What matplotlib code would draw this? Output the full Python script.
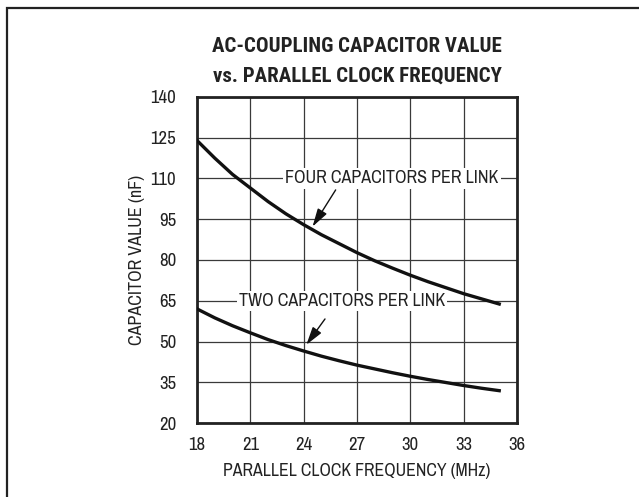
import matplotlib
matplotlib.use("Agg")
import matplotlib.pyplot as plt
from matplotlib.patches import Rectangle
from matplotlib import font_manager


def pick(prefs, weight):
    faces = font_manager.fontManager.ttflist
    for p in prefs:
        for f in faces:
            if f.name == p and (f.weight == weight or (weight == 700 and f.weight in (700, 'bold'))) \
                    and 'italic' not in f.fname.lower():
                return p
    return 'DejaVu Sans'


REG = pick(['Archivo Narrow', 'Roboto Condensed', 'Pragati Narrow', 'Asap Condensed'], 400)
BOLD = pick(['Roboto Condensed', 'Pragati Narrow', 'Asap Condensed', 'Barlow Condensed'], 700)
plt.rcParams['font.family'] = [REG, 'DejaVu Sans']

# Data
freq = [18, 19, 20, 21, 22, 23, 24, 25, 26, 27, 28, 29, 30, 31, 32, 33, 34, 35]
four_caps = [124, 117.5, 111.5, 106.5, 101.5, 97, 93, 89.3, 86, 82.7, 79.7, 77,
             74.4, 72, 69.8, 67.6, 65.7, 63.8]
two_caps = [62, 58.7, 55.8, 53.2, 50.7, 48.5, 46.5, 44.6, 42.9, 41.3, 39.9, 38.5,
            37.2, 36, 34.9, 33.8, 32.8, 31.9]
x_ticks = [18, 21, 24, 27, 30, 33, 36]
y_ticks = [20, 35, 50, 65, 80, 95, 110, 125, 140]

title = "AC-COUPLING CAPACITOR VALUE\nvs. PARALLEL CLOCK FREQUENCY"
xlabel = "PARALLEL CLOCK FREQUENCY (MHz)"
ylabel = "CAPACITOR VALUE (nF)"
label_four = "FOUR CAPACITORS PER LINK"
label_two = "TWO CAPACITORS PER LINK"

W, H = 639, 497
fig = plt.figure(figsize=(W / 100, H / 100), dpi=100)

# outer frame (runs off right and bottom edges)
fig.patches.append(Rectangle((7 / W, -0.05), 1.1, (H - 8) / H + 0.05,
                             transform=fig.transFigure, fill=False,
                             edgecolor='#222222', linewidth=1.6))

ax = fig.add_axes([197 / W, (H - 423) / H, 320 / W, 326 / H])
ax.set_xlim(18, 36)
ax.set_ylim(20, 140)
ax.set_xticks(x_ticks)
ax.set_yticks(y_ticks)
ax.tick_params(length=0, labelsize=13.5, colors='#222222')
ax.tick_params(axis='y', pad=15)
ax.tick_params(axis='x', pad=10)
ax.grid(True, color='#3a3a3a', linewidth=0.9)
ax.set_axisbelow(True)
for s in ax.spines.values():
    s.set_linewidth(2.0)
    s.set_color('#222222')

ax.plot(freq, four_caps, color='#111111', linewidth=2.4, zorder=3)
ax.plot(freq, two_caps, color='#111111', linewidth=2.4, zorder=3)

bb = dict(facecolor='white', edgecolor='none', pad=1.5)
ax.text(28.95, 110, label_four, ha='center', va='center', fontsize=13,
        color='#222222', bbox=bb, zorder=4)
ax.text(26.15, 65, label_two, ha='center', va='center', fontsize=13,
        color='#222222', bbox=bb, zorder=4)

ap = dict(arrowstyle='-|>,head_length=1.1,head_width=0.32', color='#111111',
          lw=1.0, shrinkA=0, shrinkB=0)
ax.annotate('', xy=(24.5, 92.3), xytext=(25.8, 105.8), arrowprops=ap, zorder=5)
ax.annotate('', xy=(24.15, 48.8), xytext=(25.2, 58.3), arrowprops=ap, zorder=5)

ax.set_xlabel(xlabel, fontsize=12.8, color='#222222', labelpad=7)
ax.set_ylabel(ylabel, fontsize=13, color='#222222', labelpad=4)

fig.text(357 / W, 1 - 61 / H, title, ha='center', va='center', fontsize=15,
         fontweight='bold', family=[BOLD, 'DejaVu Sans'], color='#222222',
         linespacing=1.7)

fig.savefig("out.png", dpi=100)
